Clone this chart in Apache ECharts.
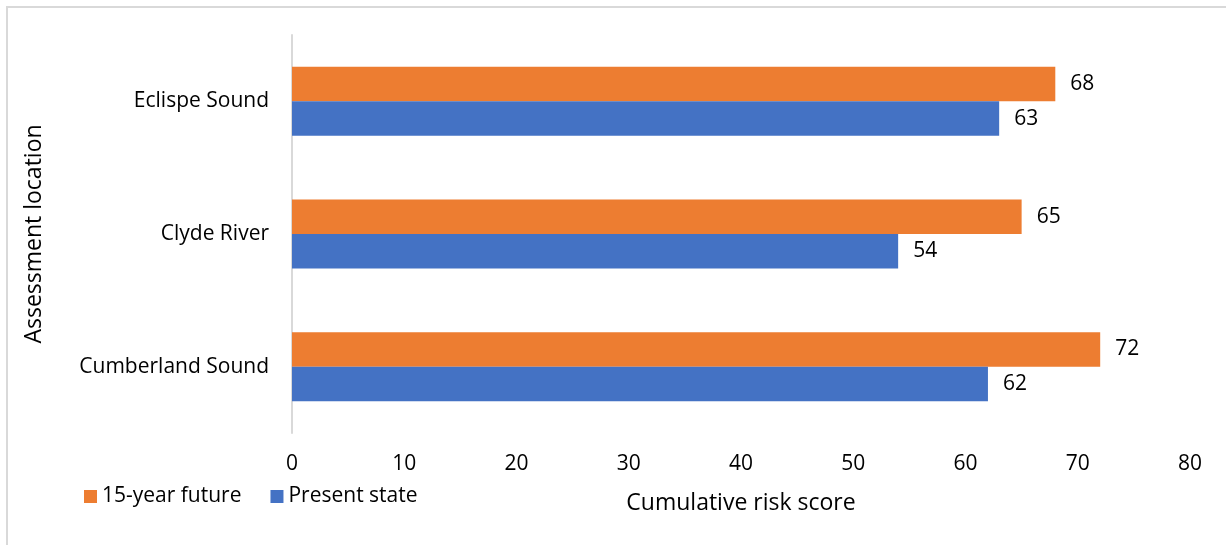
<!DOCTYPE html>
<html>
<head>
<meta charset="utf-8">
<script src="https://cdn.jsdelivr.net/npm/echarts@6/dist/echarts.min.js"></script>
<style>
  html, body { margin: 0; padding: 0; background: #fff; }
  #chart { width: 1226px; height: 545px; }
</style>
</head>
<body>
<div id="chart"></div>
<script>
// Assessment locations, bottom to top on the category axis
const locations = ['Cumberland Sound', 'Clyde River', 'Eclispe Sound'];
// Cumulative risk scores per location
const presentState = [62, 54, 63];
const futureState = [72, 65, 68];
const seriesNames = ['15-year future', 'Present state'];
const xTicks = [0, 10, 20, 30, 40, 50, 60, 70, 80];

const FONT = '"Open Sans", sans-serif';
const TEXT = '#000000';

const chart = echarts.init(document.getElementById('chart'), null, { renderer: 'canvas' });

const valueLabel = {
  show: true,
  position: 'right',
  distance: 15,
  color: TEXT,
  fontSize: 21,
  fontFamily: FONT
};

chart.setOption({
  animation: false,
  backgroundColor: '#ffffff',
  textStyle: { fontFamily: FONT },
  graphic: [{
    type: 'rect',
    shape: { x: 7, y: 7, width: 1240, height: 560 },
    style: { fill: 'none', stroke: '#d9d9d9', lineWidth: 2 },
    silent: true
  }],
  legend: {
    data: seriesNames,
    left: 79,
    top: 481,
    itemWidth: 13,
    itemHeight: 13,
    itemGap: 29,
    icon: 'rect',
    textStyle: { color: TEXT, fontSize: 21, fontFamily: FONT }
  },
  grid: { left: 292, right: 36, top: 35, bottom: 112, containLabel: false },
  xAxis: {
    type: 'value',
    min: xTicks[0],
    max: xTicks[xTicks.length - 1],
    interval: xTicks[1] - xTicks[0],
    name: 'Cumulative risk score',
    nameLocation: 'middle',
    nameGap: 59,
    nameTextStyle: { color: TEXT, fontSize: 23, fontFamily: FONT },
    axisLine: { show: false },
    axisTick: { show: false },
    splitLine: { show: false },
    axisLabel: { color: TEXT, fontSize: 21, fontFamily: FONT, margin: 21 }
  },
  yAxis: {
    type: 'category',
    data: locations,
    name: 'Assessment location',
    nameLocation: 'middle',
    nameGap: 246,
    nameRotate: 90,
    nameTextStyle: { color: TEXT, fontSize: 23, fontFamily: FONT },
    axisLine: { show: true, lineStyle: { color: '#d9d9d9', width: 2 } },
    axisTick: { show: false },
    axisLabel: { color: TEXT, fontSize: 21, fontFamily: FONT, margin: 23 }
  },
  series: [
    {
      name: seriesNames[0],
      type: 'bar',
      data: futureState,
      barCategoryGap: '48%',
      barGap: '0%',
      itemStyle: { color: '#ED7D31' },
      label: valueLabel
    },
    {
      name: seriesNames[1],
      type: 'bar',
      data: presentState,
      barCategoryGap: '48%',
      barGap: '0%',
      itemStyle: { color: '#4472C4' },
      label: valueLabel
    }
  ]
});
</script>
</body>
</html>
